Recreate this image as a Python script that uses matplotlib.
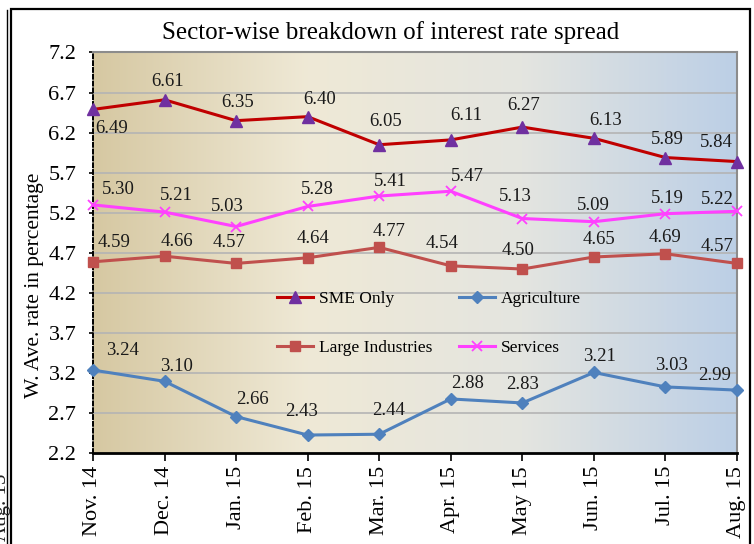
import numpy as np
import matplotlib.pyplot as plt
from matplotlib.colors import LinearSegmentedColormap
from matplotlib.patches import Rectangle
from matplotlib.lines import Line2D

plt.rcParams['font.family'] = ['Liberation Serif', 'DejaVu Serif']

months = ['Nov. 14', 'Dec. 14', 'Jan. 15', 'Feb. 15', 'Mar. 15',
          'Apr. 15', 'May 15', 'Jun. 15', 'Jul. 15', 'Aug. 15']
sme = [6.49, 6.61, 6.35, 6.40, 6.05, 6.11, 6.27, 6.13, 5.89, 5.84]
services = [5.30, 5.21, 5.03, 5.28, 5.41, 5.47, 5.13, 5.09, 5.19, 5.22]
large = [4.59, 4.66, 4.57, 4.64, 4.77, 4.54, 4.50, 4.65, 4.69, 4.57]
agri = [3.24, 3.10, 2.66, 2.43, 2.44, 2.88, 2.83, 3.21, 3.03, 2.99]
yticks = [2.2, 2.7, 3.2, 3.7, 4.2, 4.7, 5.2, 5.7, 6.2, 6.7, 7.2]

# label nudges in pixels (dx, dy up)
sme_off = [(19, -19), (3, 18), (2, 18), (12, 17), (6, 23), (16, 24), (1, 22), (12, 18), (2, 18), (-21, 19)]
serv_off = [(25, 15), (12, 17), (-9, 20), (10, 17), (11, 15), (17, 15), (-7, 22), (-1, 16), (2, 15), (-20, 12)]
large_off = [(21, 19), (12, 15), (-7, 21), (5, 19), (10, 16), (-9, 22), (-4, 19), (5, 17), (0, 16), (-20, 17)]
agri_off = [(30, 20), (12, 15), (16, 17), (-6, 24), (9, 24), (17, 15), (0, 18), (6, 16), (6, 21), (-22, 15)]

x = np.arange(len(months))

fig = plt.figure(figsize=(7.54, 5.44), dpi=100)
ax = fig.add_axes([0.1233, 0.1664, 0.8541, 0.7371])

# frame around the chart and the edge of the neighbouring one
fig.patches.append(Rectangle((11 / 754, -0.01), 739 / 754, 1 - 9 / 544 + 0.01,
                             transform=fig.transFigure, fill=False,
                             edgecolor='black', linewidth=1.6))
fig.add_artist(Line2D([7 / 754, 7 / 754], [0, 1 - 10 / 544], transform=fig.transFigure,
                      color='black', linewidth=1.0))
fig.text(0.002, 0.005, 'Aug. 15', rotation=90, fontsize=15, ha='center', va='bottom',
         color='#222222')

# gradient background
cmap = LinearSegmentedColormap.from_list('bg', ['#d6c8a2', '#efe9d6', '#e4e5e0', '#bccfe6'])
grad = np.linspace(0, 1, 256).reshape(1, -1)
ax.imshow(grad, aspect='auto', cmap=cmap, extent=[0, 1, 0, 1],
          transform=ax.transAxes, zorder=0)

for yv in yticks[1:-1]:
    ax.axhline(yv, color='#b4b4b4', linewidth=1.2, zorder=1)

ax.plot(x, sme, color='#c00000', linewidth=2.2, marker='^', markersize=9,
        markerfacecolor='#7030a0', markeredgecolor='#7030a0', label='SME Only',
        zorder=3, clip_on=False)
ax.plot(x, large, color='#c0504d', linewidth=2.2, marker='s', markersize=7,
        markerfacecolor='#c0504d', markeredgecolor='#c0504d', label='Large Industries',
        zorder=3, clip_on=False)
ax.plot(x, agri, color='#4f81bd', linewidth=2.2, marker='D', markersize=6,
        markerfacecolor='#4f81bd', markeredgecolor='#4f81bd', label='Agriculture',
        zorder=3, clip_on=False)
ax.plot(x, services, color='#ff40ff', linewidth=2.2, marker='x', markersize=7,
        markeredgewidth=1.3, label='Services', zorder=3, clip_on=False)


def labels(vals, offs):
    for i, v in enumerate(vals):
        ax.annotate(f'{v:.2f}', (x[i], v), xytext=offs[i], textcoords='offset pixels',
                    ha='center', va='center', fontsize=13.5, color='#1a1a1a',
                    annotation_clip=False, zorder=4)


labels(sme, sme_off)
labels(services, serv_off)
labels(large, large_off)
labels(agri, agri_off)

ax.set_xlim(0, 9)
ax.set_ylim(2.2, 7.2)
ax.set_yticks(yticks)
ax.set_yticklabels([f'{v:.1f}' for v in yticks], fontsize=16)
ax.set_xticks(x)
ax.set_xticklabels(months, rotation=90, fontsize=16)
ax.tick_params(axis='y', direction='out', length=3, width=1.2, pad=9)
ax.tick_params(axis='x', direction='out', length=6, width=1.2, pad=3)

ax.spines['left'].set_linestyle((0, (2, 1.5)))
ax.spines['left'].set_linewidth(1.4)
ax.spines['bottom'].set_linewidth(2)
ax.spines['top'].set_color('#8c8c8c')
ax.spines['right'].set_color('#8c8c8c')
ax.spines['top'].set_linewidth(1.5)
ax.spines['right'].set_linewidth(1.5)

ax.set_ylabel('W. Ave. rate in percentage', fontsize=15.5)
ax.yaxis.set_label_coords(-0.076, 0.42)
fig.text(0.5186, 0.941, 'Sector-wise breakdown of interest rate spread',
         ha='center', va='center', fontsize=18)

leg = ax.legend(loc='center', bbox_to_anchor=(0.522, 0.325), ncol=2, frameon=False,
                fontsize=12.5, handlelength=2.07, columnspacing=1.55,
                labelspacing=1.9, handletextpad=0.35)

fig.savefig('out.png', dpi=100)
